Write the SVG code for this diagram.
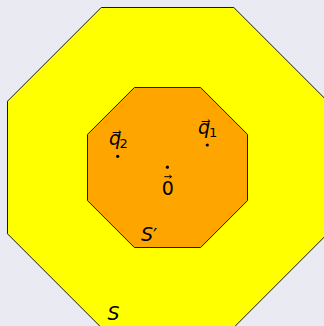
<svg xmlns="http://www.w3.org/2000/svg" width="324" height="326" viewBox="0 0 324 326">
  <style>
    .oct { stroke: #1a1a1a; stroke-width: 1; stroke-linejoin: miter; }
    .it { font-family: "DejaVu Sans", sans-serif; font-style: oblique; font-size: 19px; fill: #000; }
    .up { font-family: "DejaVu Sans", sans-serif; font-style: normal; font-size: 19px; fill: #000; }
    .sub { font-family: "DejaVu Sans", sans-serif; font-style: normal; font-size: 13px; }
    .pt { fill: #000; }
    .vec { fill: none; stroke: #000; stroke-width: 1; }
  </style>
  <rect width="324" height="326" fill="#EAEAF2"/>
  <g id="S">
    <polygon class="oct" fill="#FFFF00" points="101.2,7.5 233.8,7.5 327.5,101.2 327.5,233.8 233.8,327.5 101.2,327.5 7.5,233.8 7.5,101.2"/>
    <text class="it" x="107.5" y="320">S</text>
  </g>
  <g id="S-prime">
    <polygon class="oct" fill="#FFA500" points="134.4,87.5 200.6,87.5 247.5,134.4 247.5,200.6 200.6,247.5 134.4,247.5 87.5,200.6 87.5,134.4"/>
    <text class="it" x="141" y="241.3">S<tspan class="up" font-size="24px" dy="1">′</tspan></text>
  </g>
  <g id="q1">
    <circle class="pt" cx="207.3" cy="145" r="1.6"/>
    <text class="it" x="198" y="134">q&#x20D7;<tspan class="sub" x="209" y="136.5">1</tspan></text>
  </g>
  <g id="q2">
    <circle class="pt" cx="117.7" cy="156.3" r="1.6"/>
    <text class="it" x="109" y="145.3">q&#x20D7;<tspan class="sub" x="119.6" y="147.8">2</tspan></text>
  </g>
  <g id="origin">
    <circle class="pt" cx="167.4" cy="167.2" r="1.6"/>
    <path class="vec" d="M164.3 176.7 H171.4 M169.4 175.1 L171.6 176.7 L169.4 178.3"/>
    <text class="up" x="167.8" y="195" text-anchor="middle">0</text>
  </g>
</svg>
